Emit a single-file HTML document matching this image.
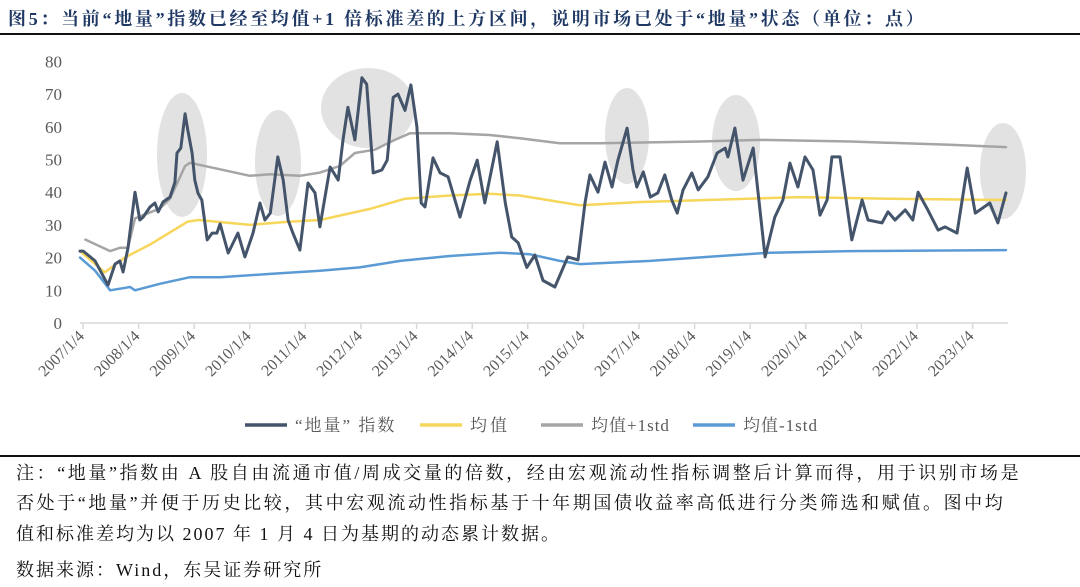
<!DOCTYPE html>
<html><head><meta charset="utf-8">
<style>
html,body{margin:0;padding:0;background:#fff;width:1080px;height:587px;overflow:hidden}
#title{position:absolute;left:8px;top:5px;font:bold 18px "Liberation Serif","Noto Serif CJK SC",serif;color:#1f3864;white-space:nowrap;letter-spacing:2.7px}
.rule{position:absolute;left:0;width:1080px;height:2px;background:#111}
.note{position:absolute;left:16px;font:18px "Liberation Serif","Noto Serif CJK SC",serif;color:#111;white-space:nowrap;letter-spacing:2.6px}
svg{position:absolute;left:0;top:0}
</style></head><body>
<div id="title">图5：当前“地量”指数已经至均值+1 倍标准差的上方区间，说明市场已处于“地量”状态（单位：点）</div>
<div class="rule" style="top:33px"></div>
<svg id="chart" width="1080" height="587"></svg>
<div class="rule" style="top:455px"></div>
<div class="note" style="top:459px">注：“地量”指数由 A 股自由流通市值/周成交量的倍数，经由宏观流动性指标调整后计算而得，用于识别市场是</div>
<div class="note" style="top:489px">否处于“地量”并便于历史比较，其中宏观流动性指标基于十年期国债收益率高低进行分类筛选和赋值。图中均</div>
<div class="note" style="top:520px;letter-spacing:2px">值和标准差均为以 2007 年 1 月 4 日为基期的动态累计数据。</div>
<div class="note" style="top:556px;letter-spacing:2px">数据来源：Wind，东吴证券研究所</div>
<script>
// ---- data (time offsets in plotted-axis units since 2007/1/4) ----
const yTicks=[0,10,20,30,40,50,60,70,80];
const xTickYears=[2007,2008,2009,2010,2011,2012,2013,2014,2015,2016,2017,2018,2019,2020,2021,2022,2023];
const xTickLabels=["2007/1/4","2008/1/4","2009/1/4","2010/1/4","2011/1/4","2012/1/4","2013/1/4","2014/1/4","2015/1/4","2016/1/4","2017/1/4","2018/1/4","2019/1/4","2020/1/4","2021/1/4","2022/1/4","2023/1/4"];
const idxT=[0,0.06,0.28,0.52,0.65,0.74,0.80,0.89,1.02,1.11,1.17,1.30,1.39,1.45,1.54,1.67,1.76,1.80,1.87,1.95,2.00,2.08,2.13,2.19,2.26,2.36,2.45,2.54,2.60,2.75,2.93,3.06,3.21,3.34,3.43,3.53,3.67,3.77,3.86,3.95,4.08,4.23,4.36,4.45,4.64,4.79,4.88,4.97,5.10,5.23,5.32,5.44,5.60,5.70,5.81,5.90,6.03,6.14,6.25,6.33,6.40,6.55,6.68,6.83,7.05,7.24,7.37,7.51,7.74,7.89,8.01,8.13,8.29,8.44,8.59,8.81,9.05,9.24,9.37,9.46,9.61,9.74,9.87,9.98,10.15,10.26,10.33,10.45,10.58,10.72,10.85,10.98,11.08,11.19,11.35,11.47,11.65,11.82,11.97,12.02,12.15,12.30,12.49,12.71,12.89,13.04,13.17,13.32,13.45,13.60,13.73,13.86,13.95,14.10,14.32,14.51,14.62,14.88,14.99,15.12,15.31,15.45,15.55,15.73,15.92,16.05,16.27,16.46,16.61,16.88,17.03,17.18];
const idxV=[22,22,19,11.6,18,19,15.6,23,40,31.5,32.4,35.5,36.7,34,37,38.5,43,52,53.5,64,59,52,43.7,39.7,37.6,25.4,27.5,27.5,30.3,21.4,27.5,20.2,27.5,36.7,31.5,33.6,50.8,43.7,31.5,27.5,22.3,42.8,39.8,29.4,47.7,43.7,56,66,56,75,73,45.9,46.8,49.8,69,70,65,72.8,60,36.7,35.5,50.5,45.9,44.7,32.4,43.7,49.8,36.7,55.4,36.7,26.3,24.5,17,20.8,13,11,20.2,19.3,36.7,45.3,40,49.2,41.6,49.8,59.6,46.8,41.6,46.2,38.5,39.8,45.3,37.6,33.6,40.7,45.9,40.7,44.7,52,53.5,50.8,59.6,43.7,53.5,20.2,32.4,37.6,48.9,41.6,50.8,46.8,33,37.6,50.8,50.8,25.4,37.6,31.5,30.6,34,31.5,34.6,31.5,40,34.6,28.4,29.4,27.5,47.4,33.6,36.7,30.6,39.8,53.8];
const meanT=[0,0.46,0.83,1.3,2.0,2.2,3.15,3.9,4.45,5.4,6.03,6.86,7.6,8.16,8.9,9.28,10.4,12.4,13.36,15.03,17.18];
const meanV=[22,15.5,20,24,31,31.5,30,31,31.5,35,38,39,39.5,39,37,36,37,38,38.5,38,37.6];
const upT=[0.1,0.56,0.74,0.89,1.02,1.48,1.67,1.95,2.04,2.6,3.15,3.53,4.08,4.45,4.82,5.1,5.47,5.84,6.12,6.86,7.6,8.16,8.9,9.65,11.5,12.62,14.29,16.14,17.18];
const upV=[25.5,22,23,23,32,35,38,48,49,47,45,45.5,45,46,48,52,53,56,58,58,57.5,56.5,55,55,55.5,56,55.5,54.5,53.8];
const loT=[0,0.28,0.56,0.93,1.02,1.48,2.04,2.6,3.53,4.45,5.19,5.94,6.86,7.79,8.35,8.9,9.28,10.58,11.88,12.8,14.29,17.18];
const loV=[20,16,10,11,10,12,14,14,15,16,17,19,20.5,21.5,21,19,18,19,20.5,21.5,22,22.3];

const NS="http://www.w3.org/2000/svg";
const svg=document.getElementById('chart');
const DX0=80,DPX=53.9,Y0=323,PXV=3.27;
const TX0=83,TPX=55.6;
function xs(t){return DX0+t*DPX;}
function xTick(yr){return TX0+(yr-2007)*TPX;}
function ys(v){return Y0-v*PXV;}
function mk(tag,attrs,parent){const e=document.createElementNS(NS,tag);for(const k in attrs)e.setAttribute(k,attrs[k]);(parent||svg).appendChild(e);return e;}

const ells=[[182,155,25,62],[278,163,23,53],[368,108,47,40],[627,136,22,48],[736,143,24,48],[1003,171,23,48]];
ells.forEach((e,i)=>{
  const el=mk('ellipse',{cx:e[0],cy:e[1],rx:e[2],ry:e[3],fill:'#e2e2e2'});
  
  
});

yTicks.forEach(v=>{
  const t=mk('text',{x:62,y:ys(v)+6,'text-anchor':'end','font-family':'Liberation Serif, serif','font-size':17,fill:'#595959'});
  t.textContent=v;
  
  
});
const ax=mk('line',{x1:80,y1:Y0,x2:1008,y2:Y0,stroke:'#d9d9d9','stroke-width':1.5});


xTickYears.forEach((yr,i)=>{
  const x=xTick(yr);
  const tk=mk('line',{x1:x,y1:Y0,x2:x,y2:Y0+6,stroke:'#d9d9d9','stroke-width':1.5});
  
  
  const t=mk('text',{x:x+2,y:Y0+14,'text-anchor':'end','font-family':'Liberation Serif, serif','font-size':16,fill:'#595959',transform:`rotate(-45 ${x+2} ${Y0+14})`});
  t.textContent=xTickLabels[i];
  
  
});

function series(T,V,color,w,name){
  const d=T.map((t,i)=>(i?'L':'M')+xs(t).toFixed(1)+' '+ys(V[i]).toFixed(1)).join(' ');
  const p=mk('path',{d:d,fill:'none',stroke:color,'stroke-width':w,'stroke-linejoin':'round','stroke-linecap':'round'});
  
  
}
series(loT,loV,'#5b9bd5',2.5,'series-mean-minus-1std');
series(meanT,meanV,'#f7d65c',2.5,'series-mean');
series(upT,upV,'#a5a5a5',2.5,'series-mean-plus-1std');
series(idxT,idxV,'#44546a',3,'series-diliang-index');

const leg=[[245,'#44546a','“地量” 指数','legend-entry-index',2],[420,'#f7d65c','均值','legend-entry-mean',3],[541,'#a5a5a5','均值+1std','legend-entry-mean-plus-1std',1],[693,'#5b9bd5','均值-1std','legend-entry-mean-minus-1std',1]];
leg.forEach(l=>{
  const g=mk('g',{});
  
  
  mk('line',{x1:l[0],y1:425,x2:l[0]+42,y2:425,stroke:l[1],'stroke-width':3.5},g);
  const t=mk('text',{x:l[0]+50,y:431,'font-family':'Liberation Serif, Noto Serif CJK SC, serif','font-size':17,fill:'#595959','letter-spacing':l[4]},g);
  t.textContent=l[2];
});
</script>
</body></html>
